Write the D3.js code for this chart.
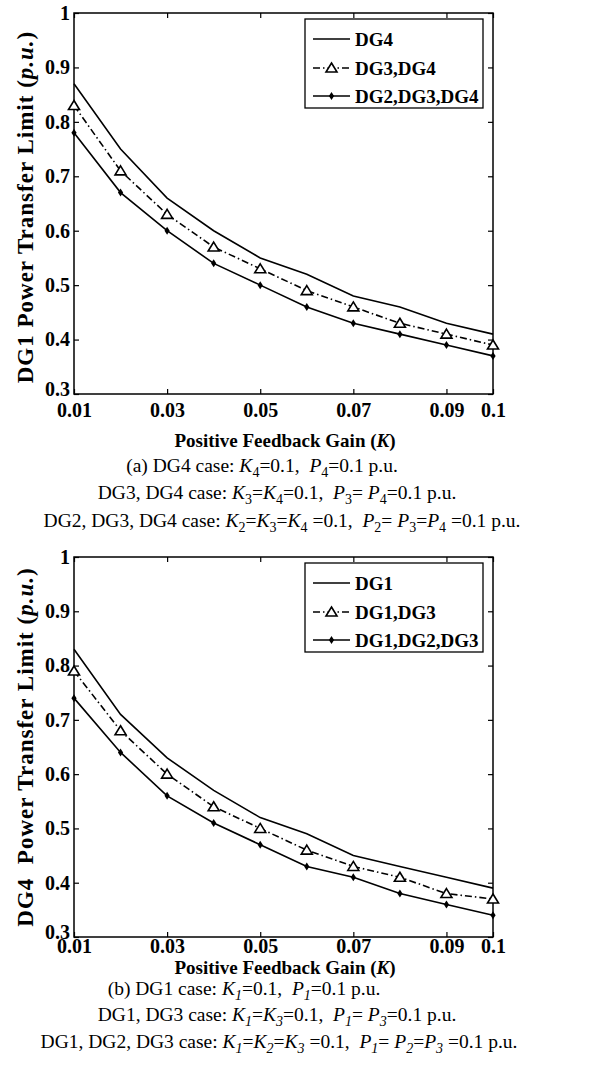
<!DOCTYPE html>
<html>
<head>
<meta charset="utf-8">
<script src="https://cdn.jsdelivr.net/npm/d3@7"></script>
<style>
  body { margin: 0; background: #fff; }
  text { font-family: "Liberation Serif", "Times New Roman", serif; fill: #000; }
</style>
</head>
<body>
<div id="chart"></div>
<script>
// data
const gainValues = [0.01, 0.02, 0.03, 0.04, 0.05, 0.06, 0.07, 0.08, 0.09, 0.1];
const xTickValues = [0.01, 0.03, 0.05, 0.07, 0.09, 0.1];
const yTickValues = [0.3, 0.4, 0.5, 0.6, 0.7, 0.8, 0.9, 1];

// panel (a): DG1 power transfer limit
const namesA = ["DG4", "DG3,DG4", "DG2,DG3,DG4"];
const limitA_dg4 = [0.87, 0.75, 0.66, 0.60, 0.55, 0.52, 0.48, 0.46, 0.43, 0.41];
const limitA_dg34 = [0.83, 0.71, 0.63, 0.57, 0.53, 0.49, 0.46, 0.43, 0.41, 0.39];
const limitA_dg234 = [0.78, 0.67, 0.60, 0.54, 0.50, 0.46, 0.43, 0.41, 0.39, 0.37];

// panel (b): DG4 power transfer limit
const namesB = ["DG1", "DG1,DG3", "DG1,DG2,DG3"];
const limitB_dg1 = [0.83, 0.71, 0.63, 0.57, 0.52, 0.49, 0.45, 0.43, 0.41, 0.39];
const limitB_dg13 = [0.79, 0.68, 0.60, 0.54, 0.50, 0.46, 0.43, 0.41, 0.38, 0.37];
const limitB_dg123 = [0.74, 0.64, 0.56, 0.51, 0.47, 0.43, 0.41, 0.38, 0.36, 0.34];

// caption pieces: n normal, i italic, s subscript, si italic subscript
const captionA = [
  [["(a) DG4 case: ", "n"], ["K", "i"], ["4", "s"], ["=0.1,  ", "n"], ["P", "i"], ["4", "s"], ["=0.1 p.u.", "n"]],
  [["DG3, DG4 case: ", "n"], ["K", "i"], ["3", "s"], ["=", "n"], ["K", "i"], ["4", "s"], ["=0.1,  ", "n"],
   ["P", "i"], ["3", "s"], ["= ", "n"], ["P", "i"], ["4", "s"], ["=0.1 p.u.", "n"]],
  [["DG2, DG3, DG4 case: ", "n"], ["K", "i"], ["2", "s"], ["=", "n"], ["K", "i"], ["3", "s"], ["=", "n"],
   ["K", "i"], ["4", "s"], [" =0.1,  ", "n"], ["P", "i"], ["2", "s"], ["= ", "n"], ["P", "i"], ["3", "s"],
   ["=", "n"], ["P", "i"], ["4", "s"], [" =0.1 p.u.", "n"]]
];
const captionB = [
  [["(b) DG1 case: ", "n"], ["K", "i"], ["1", "si"], ["=0.1,  ", "n"], ["P", "i"], ["1", "si"], ["=0.1 p.u.", "n"]],
  [["DG1, DG3 case: ", "n"], ["K", "i"], ["1", "si"], ["=", "n"], ["K", "i"], ["3", "si"], ["=0.1,  ", "n"],
   ["P", "i"], ["1", "si"], ["= ", "n"], ["P", "i"], ["3", "si"], ["=0.1 p.u.", "n"]],
  [["DG1, DG2, DG3 case: ", "n"], ["K", "i"], ["1", "si"], ["=", "n"], ["K", "i"], ["2", "si"], ["=", "n"],
   ["K", "i"], ["3", "si"], [" =0.1,  ", "n"], ["P", "i"], ["1", "si"], ["= ", "n"], ["P", "i"], ["2", "si"],
   ["=", "n"], ["P", "i"], ["3", "si"], [" =0.1 p.u.", "n"]]
];

const W = 607, H = 1077;
const left = 74, right = 493;
const width = right - left;

const svg = d3.select("#chart").append("svg")
  .attr("width", W).attr("height", H)
  .style("display", "block");
svg.append("rect").attr("width", W).attr("height", H).attr("fill", "#fff");

const styles = [
  { dash: null, marker: null },
  { dash: "7,3,1.5,3", marker: "tri" },
  { dash: null, marker: "dia" }
];

const triPath = "M0,-5L5.5,4L-5.5,4Z";
const diaPath = "M0,-4L2.6,0L0,4L-2.6,0Z";

function drawMarker(sel, kind) {
  if (kind === "tri") {
    sel.append("path").attr("d", triPath).attr("fill", "#fff")
      .attr("stroke", "#000").attr("stroke-width", 1.6);
  } else if (kind === "dia") {
    sel.append("path").attr("d", diaPath).attr("fill", "#000");
  }
}

function richText(parent, segs, cx, y) {
  const t = parent.append("text")
    .attr("x", cx).attr("y", y)
    .attr("text-anchor", "middle")
    .attr("font-size", 19.5)
    .style("white-space", "pre");
  let shift = 0;
  segs.forEach(([s, kind]) => {
    const sub = kind.indexOf("s") >= 0;
    const target = sub ? 5 : 0;
    const ts = t.append("tspan")
      .attr("dy", target - shift)
      .attr("font-style", kind.indexOf("i") >= 0 ? "italic" : "normal")
      .text(s);
    if (sub) ts.attr("font-size", 14);
    shift = target;
  });
}

function drawPanel(cfg) {
  const h = cfg.bottom - cfg.top;
  const g = svg.append("g").attr("transform", "translate(" + left + "," + cfg.top + ")");

  const x = d3.scaleLinear().domain([0.01, 0.1]).range([0, width]);
  const y = d3.scaleLinear().domain([0.3, 1]).range([h, 0]);

  // ticks point inward on all four sides
  const yAxis = g.append("g").attr("class", "axis")
    .call(d3.axisLeft(y).tickValues(yTickValues).tickSize(-5).tickPadding(4).tickFormat(d => String(d)));
  g.append("g").attr("class", "axis")
    .attr("transform", "translate(" + width + ",0)")
    .call(d3.axisRight(y).tickValues(yTickValues).tickSize(-5).tickFormat(""));
  g.append("g").attr("class", "axis")
    .attr("transform", "translate(0," + h + ")")
    .call(d3.axisBottom(x).tickValues(xTickValues).tickSize(-5).tickPadding(cfg.tickPad).tickFormat(d => String(d)));
  g.append("g").attr("class", "axis")
    .call(d3.axisTop(x).tickValues(xTickValues).tickSize(-5).tickFormat(""));

  g.selectAll(".axis .domain").remove();
  g.selectAll(".axis line").attr("stroke", "#000").attr("stroke-width", 1.2);
  g.selectAll(".axis text")
    .attr("font-size", 20).attr("font-weight", "bold")
    .attr("font-family", "Liberation Serif, Times New Roman, serif")
    .attr("fill", "#000");
  // lowest y label sits a little above the corner, as in the figure
  yAxis.selectAll(".tick text").filter(d => d === 0.3).attr("dy", "0.05em");

  g.append("rect")
    .attr("width", width).attr("height", h)
    .attr("fill", "none").attr("stroke", "#000").attr("stroke-width", 1.5);

  const line = d3.line()
    .x((d, i) => x(gainValues[i]))
    .y(d => y(d));

  cfg.series.forEach((vals, k) => {
    const st = styles[k];
    g.append("path")
      .datum(vals)
      .attr("d", line)
      .attr("fill", "none")
      .attr("stroke", "#000")
      .attr("stroke-width", 1.6)
      .attr("stroke-dasharray", st.dash);
    if (st.marker) {
      g.selectAll(".m" + k)
        .data(vals)
        .enter()
        .append("g")
        .attr("transform", (d, i) => "translate(" + x(gainValues[i]) + "," + y(d) + ")")
        .each(function () { drawMarker(d3.select(this), st.marker); });
    }
  });

  // legend
  const lg = g.append("g").attr("transform", "translate(231,6)");
  lg.append("rect")
    .attr("width", 178).attr("height", 89)
    .attr("fill", "#fff").attr("stroke", "#000").attr("stroke-width", 1.3);
  const rowY = [20, 49, 77];
  cfg.names.forEach((name, k) => {
    const st = styles[k];
    const row = lg.append("g").attr("transform", "translate(0," + rowY[k] + ")");
    row.append("line")
      .attr("x1", 8).attr("x2", 45)
      .attr("stroke", "#000").attr("stroke-width", 1.6)
      .attr("stroke-dasharray", st.dash);
    if (st.marker) {
      const m = row.append("g").attr("transform", "translate(26.5,0)");
      drawMarker(m, st.marker);
    }
    row.append("text")
      .attr("x", 50).attr("y", 6.5)
      .attr("font-size", 19).attr("font-weight", "bold")
      .text(name);
  });

  // y label
  const yl = svg.append("text")
    .attr("transform", "translate(33," + cfg.yLabelMid + ") rotate(-90)")
    .attr("text-anchor", "middle")
    .attr("font-size", 23).attr("font-weight", "bold")
    .attr("letter-spacing", 1)
    .style("white-space", "pre");
  yl.append("tspan").text(cfg.yLabel + " (");
  yl.append("tspan").attr("font-style", "italic").text("p.u.");
  yl.append("tspan").text(")");

  // x label
  const xl = svg.append("text")
    .attr("x", 285).attr("y", cfg.xTitleY)
    .attr("text-anchor", "middle")
    .attr("font-size", 19).attr("font-weight", "bold");
  xl.append("tspan").text("Positive Feedback Gain (");
  xl.append("tspan").attr("font-style", "italic").text("K");
  xl.append("tspan").text(")");

  cfg.caption.forEach((segs, i) => {
    richText(svg, segs, cfg.captionX[i], cfg.captionY[i]);
  });
}

drawPanel({
  top: 13, bottom: 394, tickPad: 9,
  series: [limitA_dg4, limitA_dg34, limitA_dg234],
  names: namesA,
  yLabel: "DG1 Power Transfer Limit",
  yLabelMid: 207,
  xTitleY: 447,
  caption: captionA,
  captionX: [262, 277, 282],
  captionY: [472, 499, 527]
});

drawPanel({
  top: 557, bottom: 937, tickPad: 2,
  series: [limitB_dg1, limitB_dg13, limitB_dg123],
  names: namesB,
  yLabel: "DG4  Power Transfer Limit",
  yLabelMid: 747,
  xTitleY: 974,
  caption: captionB,
  captionX: [244, 277, 279],
  captionY: [995, 1021, 1048]
});
</script>
</body>
</html>
